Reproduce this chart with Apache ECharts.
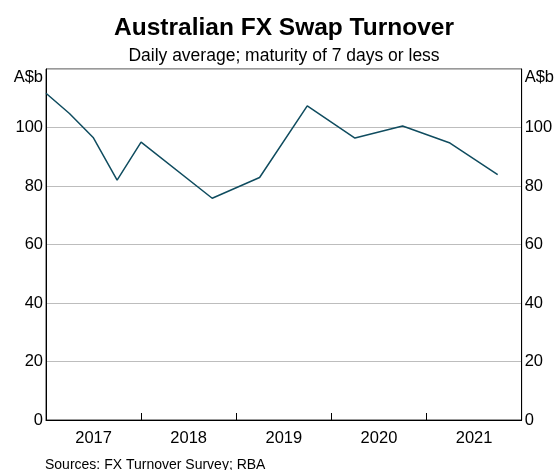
<!DOCTYPE html>
<html>
<head>
<meta charset="utf-8">
<script src="https://cdn.jsdelivr.net/npm/echarts@6/dist/echarts.min.js"></script>
<style>
  html, body { margin: 0; padding: 0; background: #fff; }
  #chart { width: 557px; height: 470px; }
</style>
</head>
<body>
<div id="chart"></div>
<script>
// survey months and daily average turnover (A$b)
var dates = ['2017-01-01', '2017-04-01', '2017-07-01', '2017-10-01', '2018-01-01',
             '2018-10-01', '2019-04-01', '2019-10-01', '2020-04-01', '2020-10-01',
             '2021-04-01', '2021-10-01'];
var turnover = [111.7, 104.8, 96.6, 82.0, 95.0, 75.8, 82.9, 107.4, 96.4, 100.5, 94.7, 83.9];
var years = ['2017', '2018', '2019', '2020', '2021'];

var fontFam = 'Liberation Sans, Arial, sans-serif';
var lineColor = '#0f4c5f';

function dataHandle(a, b) {
    var out = [];
    for (var i = 0; i < a.length; i++) {
        out.push([a[i], b[i]]);
    }
    return out;
}

// y-axis labels: top value shows the unit instead
function yLabel(v) {
    return v === 120 ? '{u|A$b}' : String(v);
}

var chart = echarts.init(document.getElementById('chart'));

var option = {
    animation: false,
    title: [
        {
            text: 'Australian FX Swap Turnover',
            left: 284, top: 16, textAlign: 'center', padding: 0,
            textStyle: { fontFamily: fontFam, fontSize: 24.5, fontWeight: 'bold', color: '#000' }
        },
        {
            text: 'Daily average; maturity of 7 days or less',
            left: 284, top: 47, textAlign: 'center', padding: 0,
            textStyle: { fontFamily: fontFam, fontSize: 17.5, fontWeight: 'normal', color: '#000' }
        },
        {
            text: 'Sources: FX Turnover Survey; RBA',
            left: 45, top: 458, padding: 0,
            textStyle: { fontFamily: fontFam, fontSize: 14, fontWeight: 'normal', color: '#000' }
        }
    ],
    grid: {
        left: 46, right: 35, top: 69, bottom: 50,
        show: true, borderColor: '#333', borderWidth: 1
    },
    xAxis: [
        {
            type: 'time',
            min: '2017-01-01', max: '2022-01-01',
            show: false
        },
        {
            type: 'category',
            data: years,
            position: 'bottom',
            boundaryGap: true,
            axisLine: { show: true, lineStyle: { color: '#000', width: 1 } },
            axisTick: { show: true, interval: 0, inside: true, length: 7, lineStyle: { color: '#000', width: 1 } },
            axisLabel: { fontFamily: fontFam, fontSize: 16.5, color: '#000', margin: 10 },
            splitLine: { show: false }
        }
    ],
    yAxis: [
        {
            type: 'value', min: 0, max: 120, interval: 20,
            position: 'left',
            axisLine: { show: true, lineStyle: { color: '#000' } },
            axisTick: { show: false },
            axisLabel: {
                fontFamily: fontFam, fontSize: 16.5, color: '#000', margin: 3,
                formatter: yLabel,
                rich: { u: { fontFamily: fontFam, fontSize: 16.5, color: '#000', padding: [16, 0, 0, 0] } }
            },
            splitLine: { lineStyle: { color: '#bdbdbd', width: 1 } }
        },
        {
            type: 'value', min: 0, max: 120, interval: 20,
            position: 'right',
            axisLine: { show: true, lineStyle: { color: '#000' } },
            axisTick: { show: false },
            axisLabel: {
                fontFamily: fontFam, fontSize: 16.5, color: '#000', margin: 3,
                formatter: yLabel,
                rich: { u: { fontFamily: fontFam, fontSize: 16.5, color: '#000', padding: [16, 0, 0, 0] } }
            },
            splitLine: { show: false }
        }
    ],
    series: [
        {
            type: 'line',
            xAxisIndex: 0,
            yAxisIndex: 0,
            data: dataHandle(dates, turnover),
            showSymbol: false,
            lineStyle: { color: lineColor, width: 1.5 }
        }
    ]
};

chart.setOption(option);
</script>
</body>
</html>
